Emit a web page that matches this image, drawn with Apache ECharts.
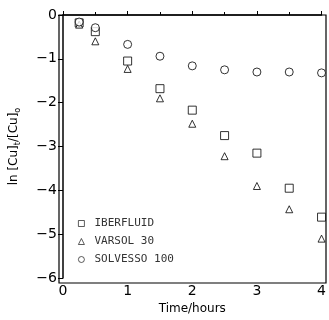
<!DOCTYPE html>
<html>
<head>
<meta charset="utf-8">
<script src="https://cdn.jsdelivr.net/npm/echarts@6/dist/echarts.min.js"></script>
<style>
  html, body { margin: 0; padding: 0; background: #fff; }
  #chart { width: 329px; height: 320px; }
</style>
</head>
<body>
<div id="chart"></div>
<script>
// time in hours
const hours = [0.25, 0.5, 1, 1.5, 2, 2.5, 3, 3.5, 4]
const iberfluid = [-0.18, -0.38, -1.05, -1.68, -2.17, -2.75, -3.15, -3.95, -4.61]
const varsol = [-0.22, -0.6, -1.23, -1.9, -2.48, -3.22, -3.9, -4.43, -5.1]
const solvesso = [-0.16, -0.29, -0.67, -0.94, -1.16, -1.25, -1.3, -1.3, -1.32]
const seriesNames = ['IBERFLUID', 'VARSOL 30', 'SOLVESSO 100']

const pair = (ys) => hours.map((x, i) => [x, ys[i]])

const chart = echarts.init(document.getElementById('chart'))
const markerStyle = { color: '#fff', borderColor: '#000', borderWidth: 1 }

chart.setOption({
  animation: false,
  grid: { left: 59, right: 3, top: 15, bottom: 37 },
  legend: {
    orient: 'vertical',
    left: 73,
    top: 213,
    itemGap: 7,
    itemWidth: 6,
    itemHeight: 6,
    itemStyle: { borderWidth: 0.8 },
    textStyle: { fontFamily: 'DejaVu Sans Mono', fontSize: 11, color: '#333', padding: [0, 0, 0, 5] },
    data: seriesNames
  },
  xAxis: {
    type: 'value',
    min: 0, max: 4, interval: 1,
    name: 'Time/hours',
    nameLocation: 'middle',
    nameGap: 22,
    nameTextStyle: { fontFamily: 'DejaVu Sans', fontSize: 12, color: '#000' },
    axisLine: { lineStyle: { color: '#000', width: 1.5 } },
    axisTick: { inside: true, length: 4, lineStyle: { color: '#000' } },
    minorTick: { show: true, splitNumber: 2, length: 3, lineStyle: { color: '#000' } },
    axisLabel: { fontFamily: 'DejaVu Sans', fontSize: 14, color: '#000', margin: 6 },
    splitLine: { show: false }
  },
  yAxis: {
    type: 'value',
    min: -6, max: 0, interval: 1,
    name: 'ln [Cu]{s|t}/[Cu]{s|o}',
    nameLocation: 'middle',
    nameGap: 41,
    nameTextStyle: {
      fontFamily: 'DejaVu Sans', fontSize: 12, color: '#000',
      rich: { s: { fontFamily: 'DejaVu Sans', fontSize: 8, padding: [8, 0, 0, 0] } }
    },
    axisLine: { lineStyle: { color: '#000', width: 1.5 } },
    axisTick: { length: 5, lineStyle: { color: '#000' } },
    axisLabel: { fontFamily: 'DejaVu Sans', fontSize: 14, color: '#000', margin: 6,
      formatter: (v) => v < 0 ? '\u2212' + Math.abs(v) : String(v) },
    splitLine: { show: false }
  },
  graphic: [{
    type: 'rect',
    shape: { x: 59, y: 15, width: 267, height: 268 },
    style: { fill: 'none', stroke: '#000', lineWidth: 1.2 },
    silent: true
  }],
  series: [
    { name: seriesNames[0], type: 'scatter', symbol: 'rect', symbolSize: 8, itemStyle: markerStyle, data: pair(iberfluid) },
    { name: seriesNames[1], type: 'scatter', symbol: 'triangle', symbolSize: 7, itemStyle: markerStyle, data: pair(varsol) },
    { name: seriesNames[2], type: 'scatter', symbol: 'circle', symbolSize: 8, itemStyle: markerStyle, data: pair(solvesso) }
  ]
})
</script>
</body>
</html>
